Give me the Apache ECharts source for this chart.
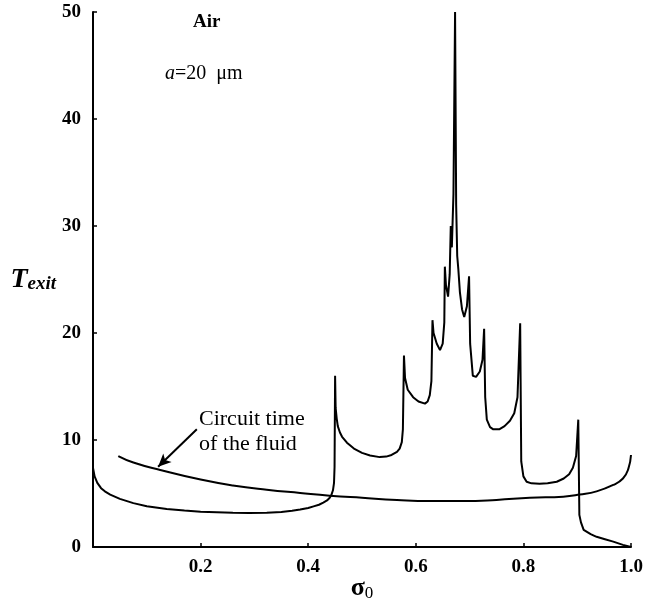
<!DOCTYPE html>
<html>
<head>
<meta charset="utf-8">
<script src="https://cdn.jsdelivr.net/npm/echarts@6/dist/echarts.min.js"></script>
<style>
html,body{margin:0;padding:0;background:#fff;}
#chart{width:647px;height:605px;}
</style>
</head>
<body>
<div id="chart"></div>
<script>
// Exit time curve
var sigmaExit = [0.0,0.003,0.008,0.015,0.022,0.032,0.05,0.075,0.1,0.137,0.17,0.2,0.23,0.26,0.29,0.323,0.35,0.37,0.385,0.40,0.41,0.42,0.428,0.435,0.44,0.443,0.446,0.448,0.449,0.450,0.451,0.453,0.455,0.459,0.463,0.472,0.485,0.50,0.515,0.533,0.545,0.555,0.565,0.570,0.574,0.576,0.578,0.580,0.585,0.595,0.605,0.617,0.622,0.626,0.629,0.631,0.633,0.639,0.645,0.650,0.653,0.654,0.656,0.660,0.663,0.665,0.667,0.670,0.673,0.675,0.677,0.679,0.682,0.686,0.690,0.695,0.699,0.701,0.706,0.712,0.719,0.724,0.727,0.729,0.732,0.738,0.744,0.755,0.765,0.775,0.783,0.789,0.794,0.796,0.800,0.806,0.815,0.83,0.845,0.862,0.875,0.885,0.892,0.898,0.902,0.904,0.907,0.912,0.925,0.936,0.95,0.967,0.985,1.0];
var tExit = [7.4,6.6,6.0,5.5,5.2,4.9,4.5,4.1,3.8,3.55,3.4,3.3,3.25,3.2,3.18,3.2,3.28,3.38,3.5,3.65,3.8,3.95,4.15,4.35,4.6,4.85,5.3,6.0,7.5,16.0,13.0,12.0,11.3,10.7,10.3,9.75,9.2,8.8,8.55,8.4,8.45,8.6,8.9,9.2,9.8,11.0,17.9,15.8,14.7,14.0,13.6,13.4,13.6,14.2,15.5,21.2,20.0,19.0,18.4,19.0,21.0,26.2,24.5,23.4,25.5,30.0,28.0,33.0,50.0,32.0,27.2,26.0,23.8,22.2,21.5,22.5,25.3,19.0,16.0,15.9,16.4,17.5,20.4,14.0,11.9,11.2,11.0,11.0,11.3,11.8,12.5,14.0,20.9,8.0,6.6,6.1,5.95,5.9,5.95,6.1,6.4,6.8,7.4,8.5,11.9,3.0,2.3,1.6,1.2,0.95,0.75,0.5,0.2,0.0];
// Circuit time of the fluid
var sigmaCircuit = [0.047,0.075,0.125,0.2,0.26,0.323,0.385,0.44,0.5,0.565,0.626,0.688,0.75,0.812,0.874,0.905,0.936,0.967,0.985,0.995,1.0];
var tCircuit = [8.5,7.9,7.2,6.3,5.75,5.35,5.05,4.8,4.6,4.4,4.3,4.3,4.4,4.6,4.7,4.9,5.2,5.8,6.4,7.3,8.6];
// Axis ticks
var xTicks = [0.2,0.4,0.6,0.8,1.0];
var yTicks = [0,10,20,30,40,50];
// Annotation arrow (data coords: from label to curve)
var arrowFrom = [0.193, 11.0];
var arrowTo = [0.121, 7.5];

function pairs(xs, ys){ return xs.map(function(x,i){return [x, ys[i]];}); }

var chart = echarts.init(document.getElementById('chart'), null, {renderer:'canvas'});
var font = '"Liberation Serif","Times New Roman",serif';
chart.setOption({
  animation:false,
  backgroundColor:'#fff',
  grid:{left:93,right:16,top:12,bottom:58,containLabel:false,outerBoundsMode:'none'},
  xAxis:{
    type:'value',min:0,max:1,interval:0.2,
    axisLine:{show:true,onZero:false,lineStyle:{color:'#000',width:2}},
    axisTick:{show:true,inside:true,length:4,lineStyle:{color:'#000',width:1.5}},
    splitLine:{show:false},
    axisLabel:{
      margin:11,color:'#000',fontFamily:font,fontSize:19,fontWeight:'bold',
      formatter:function(v){ if(v===0) return ''; var r=Math.round(v*10)/10; return xTicks.indexOf(r)>=0 ? (r===1?'1.0':String(r)) : ''; }
    },
    name:'{s|σ}{sub|0}',nameLocation:'middle',nameGap:28,nameMoveOverlap:false,
    nameTextStyle:{rich:{
      s:{fontFamily:font,fontSize:26,fontWeight:'bold',color:'#000'},
      sub:{fontFamily:font,fontSize:17,color:'#000',verticalAlign:'bottom',padding:[10,0,0,0]}
    }}
  },
  yAxis:{
    type:'value',min:0,max:50,interval:10,
    axisLine:{show:true,onZero:false,lineStyle:{color:'#000',width:2}},
    axisTick:{show:true,inside:true,length:4,lineStyle:{color:'#000',width:1.5}},
    splitLine:{show:false},
    axisLabel:{
      margin:12,color:'#000',fontFamily:font,fontSize:19,fontWeight:'bold',
      formatter:function(v){ return yTicks.indexOf(v)>=0 ? String(v) : ''; }
    },
    name:'{t|T}{e|exit}',nameLocation:'middle',nameRotate:0,nameGap:37,nameMoveOverlap:false,
    nameTextStyle:{align:'right',rich:{
      t:{fontFamily:font,fontSize:28,fontStyle:'italic',fontWeight:'bold',color:'#000'},
      e:{fontFamily:font,fontSize:19,fontStyle:'italic',fontWeight:'bold',color:'#000',padding:[10,0,0,0]}
    }}
  },
  series:[
    {type:'line',data:pairs(sigmaExit,tExit),showSymbol:false,symbol:'none',
     lineStyle:{color:'#000',width:2},smooth:false,z:3},
    {type:'line',data:pairs(sigmaCircuit,tCircuit),showSymbol:false,symbol:'none',
     lineStyle:{color:'#000',width:2},smooth:true,z:3,
     markLine:{silent:true,symbol:['none','arrow'],symbolSize:[9,13],
       lineStyle:{color:'#000',width:2,type:'solid'},label:{show:false},
       data:[[{coord:arrowFrom},{coord:arrowTo}]]}}
  ],
  graphic:[
    {type:'text',left:193,top:13,style:{text:'Air',font:'bold 19px '+font,fill:'#000'}},
    {type:'text',left:165,top:64,style:{
      text:'{i|a}{n|=20  μm}',
      rich:{i:{fontFamily:font,fontStyle:'italic',fontSize:20,fill:'#000'},n:{fontFamily:font,fontSize:20,fill:'#000'}}
    }},
    {type:'text',left:199,top:407,style:{text:'Circuit time\nof the fluid',font:'22px '+font,fill:'#000',lineHeight:25}}
  ]
});
</script>
</body>
</html>
